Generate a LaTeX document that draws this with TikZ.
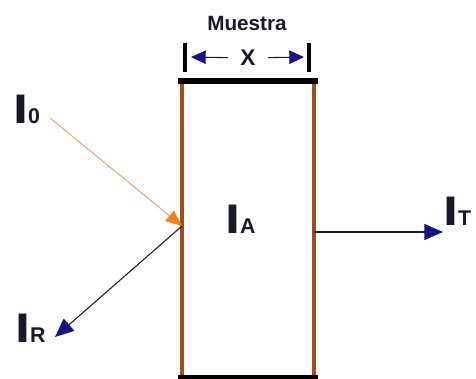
\documentclass[tikz,border=0pt]{standalone}
\usepackage{fontspec}
\setmainfont{Liberation Sans}
\usetikzlibrary{arrows.meta}

\definecolor{wallbrown}{RGB}{165,75,30}
\definecolor{navy}{RGB}{20,20,135}
\definecolor{inkdark}{RGB}{25,25,45}
\definecolor{beamorange}{RGB}{232,168,110}
\definecolor{tiporange}{RGB}{245,130,25}

\newcommand{\intlabel}[1]{{\fontsize{31}{31}\selectfont\bfseries\scalebox{1.3}[1]{I}}{\fontsize{16}{16}\selectfont\bfseries #1}}

\begin{document}
\begin{tikzpicture}[x=0.75pt,y=-0.75pt,
  wall/.style={wallbrown, line width=2.4pt},
  bar/.style={black, line width=3.8pt},
  tickbar/.style={black, line width=3pt},
  lbl/.style={inkdark, anchor=base west, inner sep=0pt},
  incident/.style={beamorange, line width=0.8pt, -{Triangle[length=12pt,width=10pt,color=tiporange]}},
  reflected/.style={inkdark, line width=0.8pt, -{Triangle[length=14pt,width=12pt,color=navy]}},
  transmitted/.style={inkdark, line width=0.8pt, -{Triangle[length=14pt,width=12pt,color=navy]}},
  dimarrow/.style={inkdark, line width=0.8pt, -{Triangle[length=11pt,width=10pt,color=navy]}}]
  \useasboundingbox (0,0) rectangle (476,379);

  % sample
  \coordinate (TL) at (182,81);
  \coordinate (TR) at (314,81);
  \coordinate (BL) at (182,378);
  \coordinate (BR) at (314,378);
  \draw[wall] (TL) -- (BL);
  \draw[wall] (TR) -- (BR);
  \draw[bar] ([xshift=-3pt]TL) -- ([xshift=3pt]TR);
  \draw[bar] ([xshift=-3pt]BL) -- ([xshift=3pt]BR);

  % thickness
  \node[font=\bfseries\fontsize{15.5}{15.5}\selectfont, text=inkdark] (muestra) at (247,23) {Muestra};
  \draw[tickbar] (185,43) -- (185,72);
  \draw[tickbar] (309,43) -- (309,72);
  \node[font=\bfseries\fontsize{17}{17}\selectfont, text=inkdark, inner xsep=9pt, inner ysep=0pt] (X) at (248,58) {X};
  \coordinate (dimL) at (191,57);
  \coordinate (dimR) at (304,57);
  \draw[dimarrow] (X) -- (dimL);
  \draw[dimarrow] (X) -- (dimR);

  % intensities
  \node[lbl] (I0) at (13,123) {\intlabel{0}};
  \node[lbl] (IR) at (15,342) {\intlabel{R}};
  \node[lbl] (IA) at (225,233) {\intlabel{A}};
  \node[lbl] (IT) at (443,225) {\intlabel{T}};

  \coordinate (src) at (50,118);
  \coordinate (hit) at (182,226);
  \coordinate (rtip) at (55,337);
  \coordinate (exit) at (314,232);
  \coordinate (ttip) at (443,232);

  \draw[incident] (src) -- (hit);
  \draw[reflected] (hit) -- (rtip);
  \draw[transmitted] (exit) -- (ttip);
\end{tikzpicture}
\end{document}
